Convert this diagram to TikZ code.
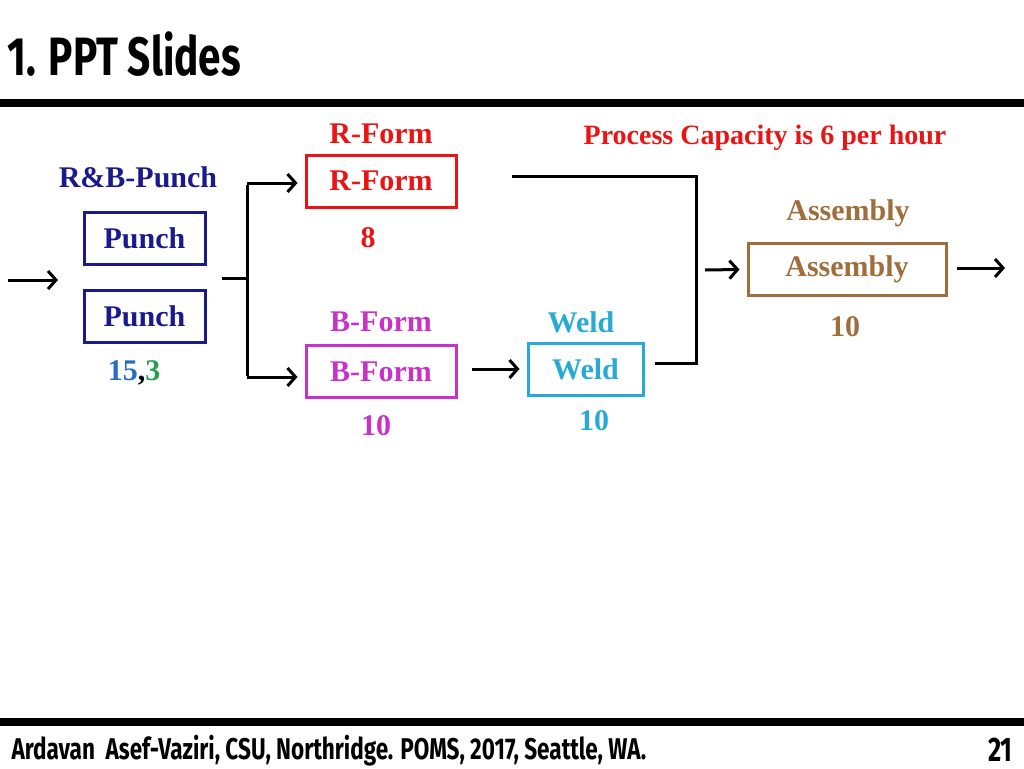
\documentclass[tikz,border=0pt]{standalone}
\usepackage{fontspec}
\setmainfont{Liberation Serif}
\newfontfamily\titlefont{Fira Sans}[FakeStretch=0.75]
\usetikzlibrary{arrows.meta}
\definecolor{navy}{RGB}{26,26,140}
\definecolor{rf}{RGB}{235,20,20}
\definecolor{bf}{RGB}{200,50,200}
\definecolor{wd}{RGB}{40,170,215}
\definecolor{asm}{RGB}{160,110,60}
\definecolor{bl}{RGB}{40,110,190}
\definecolor{gr}{RGB}{40,160,80}
\tikzset{
 lbl/.style={font=\bfseries\fontsize{30}{34}\selectfont},
 box/.style={draw,line width=3pt,minimum height=52pt,inner sep=0pt},
 con/.style={line width=3pt},
 arr/.style={line width=3pt,-{Straight Barb[length=8pt,width=18pt]}}
}
\begin{document}
\begin{tikzpicture}[x=1pt,y=-1pt]
\useasboundingbox (0,0) rectangle (1024,768);
\node[anchor=west,font=\titlefont\bfseries\fontsize{54}{58}\selectfont] (title) at (4,54) {1. PPT Slides};
\fill (0,99) rectangle (1024,107);
\fill (0,718) rectangle (1024,726);
\node[anchor=west,font=\titlefont\bfseries\fontsize{30}{33}\selectfont] (foot) at (8,751) {Ardavan\ \ Asef-Vaziri, CSU, Northridge. POMS, 2017, Seattle, WA.};
\node[anchor=east,font=\titlefont\bfseries\fontsize{34}{38}\selectfont] (pg) at (1016,750) {21};

\node[lbl,text=navy] (rbl) at (138,177) {R\&B-Punch};
\node[box,lbl,navy,minimum width=121pt] (p1) at (144.5,238.5) {Punch};
\node[box,lbl,navy,minimum width=121pt] (p2) at (144.5,316) {Punch};
\node[lbl] (pc) at (134,373) {\textcolor{bl}{15},\textcolor{gr}{3}};

\coordinate (in0) at (8,280); \coordinate (in1) at (58,280);
\draw[arr] (in0) -- (in1);
\coordinate (s0) at (222,278); \coordinate (s1) at (247,278);
\coordinate (t) at (247,183); \coordinate (b) at (247,377);
\draw[con] (s0) -- (s1);
\draw[con] ([yshift=-1.5pt]t) -- ([yshift=1.5pt]b);

\node[lbl,text=rf] (rl) at (381,134) {R-Form};
\node[box,lbl,rf,minimum width=150pt] (rfb) at (381,181) {R-Form};
\node[lbl,text=rf] (r8) at (368,238) {8};
\draw[arr] (t) -- ([xshift=-7pt]rfb.west |- t);

\node[lbl,text=bf] (bl) at (381,322) {B-Form};
\node[box,lbl,bf,minimum width=150pt] (bfb) at (381,371.5) {B-Form};
\node[lbl,text=bf] (b10) at (376,426) {10};
\draw[arr] (b) -- ([xshift=-7pt]bfb.west |- b);

\node[lbl,text=wd] (wl) at (581,322) {Weld};
\node[box,lbl,wd,minimum width=115pt] (wb) at (585.5,369) {Weld};
\node[lbl,text=wd] (w10) at (594,421) {10};
\draw[arr] ([xshift=14pt]bfb.east |- wb.west) -- ([xshift=-7pt]wb.west);

\coordinate (j1) at (512,176); \coordinate (j2) at (696,176);
\coordinate (j3) at (696,363); \coordinate (j4) at (655,363);
\draw[con,line join=miter] (j1) -- (j2) -- (j3) -- (j4);

\node[lbl,text=asm] (al) at (848,213) {Assembly};
\node[box,lbl,asm,minimum width=198pt] (ab) at (847,269.5) {Assembly};
\node[lbl,text=asm] (a10) at (845,327) {10};
\coordinate (ai) at (705,270);
\draw[arr] (ai) -- ([xshift=-7pt]ab.west);
\coordinate (ao) at (1005,268);
\draw[arr] ([xshift=9pt]ab.east |- ao) -- (ao);

\node[lbl,text=rf,font=\bfseries\fontsize{28}{32}\selectfont] (cap) at (765,138) {Process Capacity is 6 per hour};
\end{tikzpicture}
\end{document}
